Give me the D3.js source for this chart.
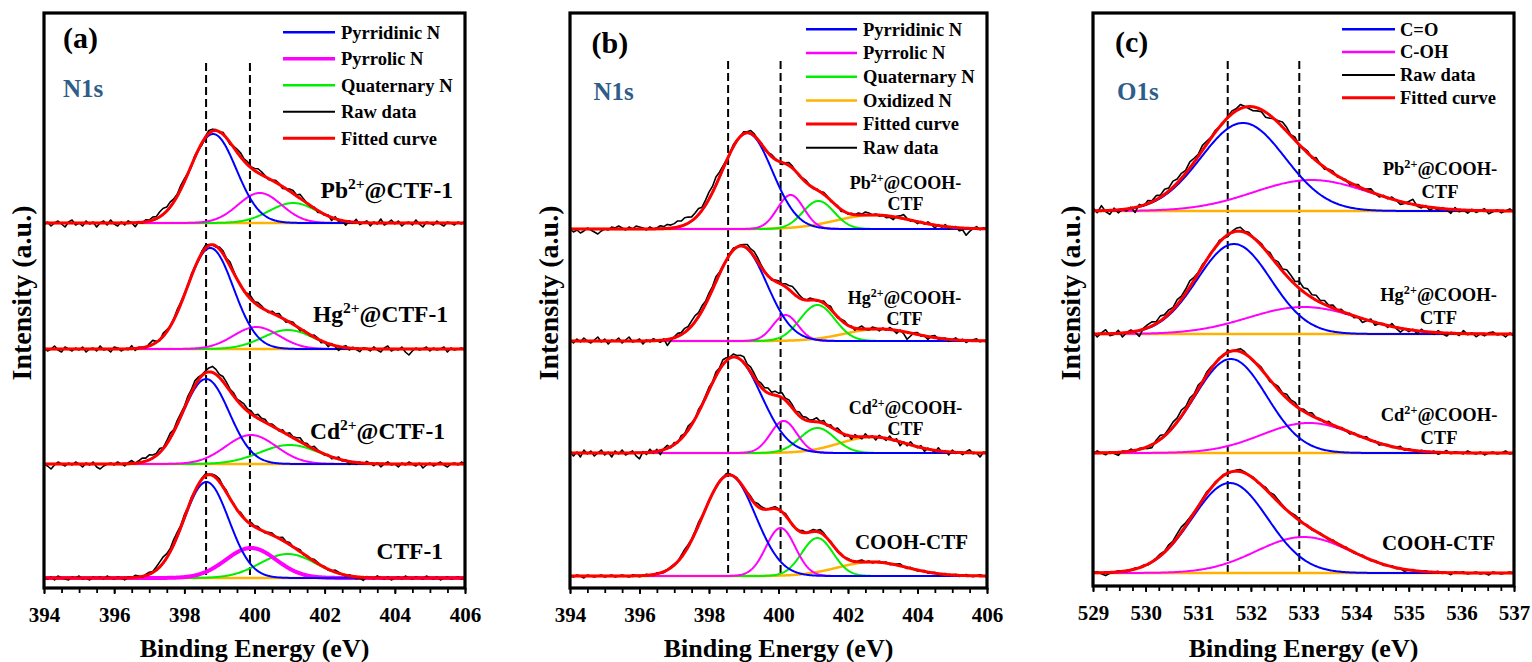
<!DOCTYPE html>
<html>
<head>
<meta charset="utf-8">
<script src="https://cdn.jsdelivr.net/npm/d3@7"></script>
<style>
  body { margin: 0; background: #fff; }
  svg { display: block; }
  text { font-family: "Liberation Serif", "Times New Roman", serif; font-weight: bold; fill: #000; }
</style>
</head>
<body>
<svg id="chart" width="1532" height="662"></svg>
<script>
// ---------------- data ----------------
const nRange = [394, 406];          // N1s binding energy window (eV)
const oRange = [529, 537];          // O1s binding energy window (eV)
const nStep = 0.1;                  // raw-data sampling of N1s scans (eV)
const oStep = 0.08;                 // raw-data sampling of O1s scans (eV)
const nTicks = [394, 396, 398, 400, 402, 404, 406];
const oTicks = [529, 530, 531, 532, 533, 534, 535, 536, 537];

// Peak components: [centre (eV), height (a.u.), sigma (eV)]
// (a) N1s, CTF-1 series
const aSamples = [["Pb{2+}@CTF-1"], ["Hg{2+}@CTF-1"], ["Cd{2+}@CTF-1"], ["CTF-1"]];
const aOffsets = [365, 239, 124, 10];
const aPyridinic = [[398.82, 89, 0.66], [398.74, 101, 0.66], [398.62, 85, 0.66], [398.63, 96, 0.64]];
const aPyrrolic = [[400.15, 30, 0.62], [400.05, 22, 0.65], [399.9, 29, 0.72], [399.9, 30, 0.72]];
const aQuaternary = [[401.1, 20, 0.68], [400.95, 19, 0.72], [401.0, 19, 0.85], [400.95, 24, 0.8]];
const aMarkers = [398.62, 399.87];

// (b) N1s, COOH-CTF series
const bSamples = [["Pb{2+}@COOH-", "CTF"], ["Hg{2+}@COOH-", "CTF"], ["Cd{2+}@COOH-", "CTF"], ["COOH-CTF"]];
const bOffsets = [359, 247, 135, 12];
const bPyridinic = [[399.1, 96, 0.72], [398.92, 95, 0.74], [398.72, 96, 0.78], [398.58, 101, 0.75]];
const bPyrrolic = [[400.35, 34, 0.38], [400.2, 26, 0.36], [400.15, 32, 0.38], [400.06, 48, 0.42]];
const bQuaternary = [[401.15, 28, 0.45], [401.12, 36, 0.5], [401.12, 25, 0.5], [401.12, 38, 0.45]];
const bOxidized = [[402.75, 14, 1.1], [402.9, 12, 1.0], [402.7, 16, 0.95], [402.7, 14, 1.0]];
const bMarkers = [398.55, 400.06];

// (c) O1s, COOH-CTF series
const cSamples = [["Pb{2+}@COOH-", "CTF"], ["Hg{2+}@COOH-", "CTF"], ["Cd{2+}@COOH-", "CTF"], ["COOH-CTF"]];
const cOffsets = [377, 254, 135, 15];
const cCarbonyl = [[531.85, 88, 0.8], [531.68, 90, 0.7], [531.62, 94, 0.68], [531.6, 90, 0.72]];
const cHydroxyl = [[533.15, 31, 1.1], [533.0, 27, 1.05], [533.1, 30, 0.9], [533.0, 36, 0.9]];
const cMarkers = [531.56, 532.92];

// Raw-data residuals (raw minus fitted envelope, a.u.) on the sampling grid
const aResidPb = [-2,1,-3,0,2,-1,-4,1,3,-2,0,-3,2,-1,1,-4,0,2,-2,3,-1,-3,1,-2,2,0,-4,1,-1,2,
  1,3,2,5,6,4,5,3,2,4, 3,1,-1,2,0,-2,1,3,2,1, -1,2,0,-2,1,3,4,2,3,1, 2,4,3,1,-1,0,2,1,-2,0,
  2,3,1,4,2,0,-1,1,-2,0, -1,1,-3,2,-2,0,-4,1,-1,3, -2,0,2,-3,1,-1,4,-2,0,3, -1,2,-3,0,1,-2,3,-1,-4,1,
  0,-2,2,-1,-3,1,0,-2,1,-1,2];
const aResidHg = [1,-2,0,3,-1,-3,2,0,-2,1,-1,2,-3,0,1,-2,3,-1,0,-3,2,1,-2,0,-1,3,-2,1,0,-1,
  2,4,1,-1,3,2,0,1,3,2, 1,0,2,1,-1,2,3,1,0,-1, 2,3,1,4,2,0,1,-1,2,3, 1,3,2,0,-1,2,1,3,0,-2,
  1,2,0,-2,1,0,-1,2,1,-2, 0,-3,1,-1,-4,0,2,-2,1,-1, -3,1,0,-2,2,-1,-3,1,3,-2, 0,-1,2,-3,-6,-2,1,-1,0,2,
  -2,1,-1,0,2,-3,1,-1,0,1,-1];
const aResidCd = [0,-2,-5,-1,2,0,-2,1,-1,2,0,-3,1,-1,2,-3,-5,-2,0,1,-1,2,0,-2,1,3,0,2,4,3,
  5,3,2,4,1,3,5,2,4,3, 2,4,3,5,3,1,2,4,6,5, 3,5,4,2,3,1,3,4,2,3, 1,4,2,3,0,2,1,-1,2,0,
  3,1,2,4,1,2,0,3,1,0, -1,1,-2,0,2,-1,1,-3,0,-2, 1,-1,2,0,-2,1,-3,0,2,-1, 0,-3,1,-1,2,0,-2,1,-4,-1,
  1,-2,0,2,-1,-3,0,1,-1,2,0];
const aResidBare = [0,-1,1,-2,2,0,-1,-2,1,0,2,-1,0,-2,1,0,1,-1,2,0,-1,1,0,-2,1,0,2,1,-1,1,
  2,1,3,5,6,4,3,5,4,2, 3,1,2,0,-1,1,2,0,1,2, 3,1,2,0,1,-1,2,1,0,2, 1,2,0,-1,1,2,0,1,3,1,
  2,0,1,2,-1,1,0,2,1,0, 1,-1,0,2,1,0,-1,1,0,-2, -1,-3,1,0,-1,2,0,-1,1,-2, 0,1,-1,2,0,-1,1,0,-1,2,
  0,-1,1,-2,0,1,-1,0,1,-1,0];

const bResidPb = [0,-3,-1,-4,-2,1,-1,-3,-5,-2,0,-1,2,1,3,1,-1,2,0,3,2,1,-1,2,0,1,3,2,4,3,
  4,6,5,7,6,4,5,6,3,5, 7,6,8,5,3,1,-1,2,1,0, 2,1,3,2,0,1,-1,0,2,1, 0,-2,1,3,2,0,-1,1,2,0,
  -1,1,0,2,1,-1,0,1,-2,0, -1,1,0,2,1,3,2,0,1,-1, 0,-2,-1,-3,1,2,4,1,-1,0, -2,1,-1,2,0,-3,1,-1,2,-2,
  0,1,-3,-2,-7,-3,0,2,-1,1,0];
const bResidHg = [1,-2,2,-1,3,0,-2,1,4,-1,2,-3,1,0,3,-2,1,4,-1,0,2,-3,1,-1,2,0,-2,1,-6,-2,
  1,3,2,4,3,5,6,4,5,3, 4,3,5,2,1,-1,1,2,0,1, 2,4,3,5,4,2,1,0,-1,1, 2,1,3,4,6,5,3,1,0,2,
  1,-1,0,2,1,3,0,-1,1,2, 0,1,-2,1,3,0,-1,2,1,-2, 1,-1,2,0,-3,1,-2,-7,-3,1, 2,-1,0,-3,1,2,-1,0,1,-2,
  0,2,-1,1,-2,0,1,2,-1,0,1];
const bResidCd = [2,-3,1,-4,3,-1,2,-3,0,3,-2,1,-4,2,-1,3,-2,0,2,-3,-6,1,-2,3,-1,2,-4,1,3,-1,
  2,-1,3,1,4,2,0,3,1,2, 3,1,4,2,5,3,1,3,2,4, 6,3,5,4,2,4,3,5,2,4, 3,5,2,4,3,1,4,2,3,1,
  2,4,1,3,-1,2,0,3,1,-2, 1,-3,2,0,-2,3,-1,1,-3,2, 0,-2,3,-1,2,-4,1,-2,3,0, -1,2,-3,1,0,-2,3,-1,1,-3,
  2,-1,0,-2,1,3,-1,0,-4,1,0];
const bResidBare = [0,-1,1,0,-2,1,0,-1,0,1,-1,0,1,-1,0,1,0,-1,1,0,-1,0,1,0,-1,1,0,-1,0,1,
  1,0,2,3,2,1,2,3,1,0, 1,0,-1,1,0,2,1,0,1,-1, 0,1,2,1,3,2,1,0,1,2, 1,0,2,1,-1,0,1,2,0,1,
  2,1,3,2,0,1,0,-1,1,0, 1,0,-1,1,2,0,1,-1,0,1, 0,1,-1,0,1,2,0,-1,1,0, -1,0,1,-1,0,1,-2,0,1,-1,
  0,1,-1,0,1,0,-1,0,1,0,-1];

const cResidPb = [3,-2,5,-1,-4,2,-3,0,-2,1, -5,2,-1,3,1,4,2,5,3,6, 4,5,3,6,4,2,5,3,1,2,
  0,-1,1,3,2,4,1,-2,-4,-3, -2,-5,-3,0,2,5,4,1,3,-1, 1,2,-1,3,0,-2,1,2,-1,0,
  1,-2,0,2,-1,1,3,0,-2,1, -1,2,0,-3,-1,2,5,-1,-2,1, -3,0,-2,1,-1,-4,2,-2,0,-3,
  1,-2,0,2,-3,-1,1,-2,0,2, -1];
const cResidHg = [2,-3,1,4,-2,-1,3,-4,0,2, -1,-6,1,3,4,2,5,3,4,2, 5,3,4,6,3,1,2,0,1,-1,
  2,0,-2,1,3,4,1,2,0,1, 2,0,3,1,4,2,6,5,3,7, 4,6,3,5,2,4,1,3,0,2,
  -1,1,-2,0,-4,-1,2,-3,0,1, -2,3,-1,-4,0,-2,1,-3,2,-1, 0,-2,2,-1,-3,1,0,-2,3,-1,
  1,-3,0,-2,1,2,-1,0,-3,1, -2];
const cResidCd = [-1,2,0,-2,1,-1,-3,1,0,2, -1,1,0,-2,-3,2,4,1,3,5, 4,6,3,5,2,4,1,3,2,0,
  1,-1,2,0,1,3,2,0,-1,1, 2,0,-2,1,3,1,4,2,3,0, 2,1,3,0,1,-1,2,0,-1,1,
  0,-2,1,-1,0,2,-1,1,-2,0, 1,-1,0,2,-1,1,0,-2,1,0, -1,1,-2,0,2,-1,1,0,-1,2,
  0,-1,1,-2,0,1,-1,0,2,-1, 0];
const cResidBare = [0,1,-1,-3,-1,0,1,0,-1,0, 1,0,1,-1,0,1,2,1,3,2, 4,5,3,2,1,0,1,2,0,1,
  0,1,-1,0,1,2,1,0,1,-1, 0,2,1,3,2,1,0,1,2,1, 0,1,-1,0,1,0,-1,1,0,-1,
  1,0,-1,0,1,0,-1,1,0,-1, 0,1,-1,0,-2,0,1,-1,0,1, -1,0,1,-1,0,-2,1,0,1,-1,
  0,1,-1,0,-2,1,0,-1,0,1, 0];

// ---------------- drawing ----------------
const COLORS = { blue: "#0000FF", magenta: "#FF00FF", green: "#00EE00", orange: "#FFB300", red: "#FF0000", black: "#000000" };
const svg = d3.select("#chart");
const gaussian = (e, p) => p[1] * Math.exp(-((e - p[0]) ** 2) / (2 * p[2] * p[2]));

function richText(sel, str, fs) {
  const parts = str.split(/(\{[^}]*\})/).filter(s => s.length);
  let raised = false;
  parts.forEach(p => {
    if (p.startsWith("{")) {
      sel.append("tspan").attr("font-size", fs * 0.66).attr("dy", -0.38 * fs).text(p.slice(1, -1));
      raised = true;
    } else {
      sel.append("tspan").attr("dy", raised ? 0.38 * fs : 0).text(p);
      raised = false;
    }
  });
}

const panels = [
  {
    range: nRange, step: nStep, ticks: nTicks, minorStep: 0.5,
    left: 44, right: 465, bottom: 588,
    offsets: aOffsets, markers: aMarkers, markerTop: 63, markerBottom: 578,
    flatBackground: true,
    components: [
      { data: aQuaternary, color: COLORS.green, width: [2, 2, 2, 2] },
      { data: aPyrrolic, color: COLORS.magenta, width: [2, 2, 2, 4] },
      { data: aPyridinic, color: COLORS.blue, width: [2, 2, 2, 2] }
    ],
    residuals: [aResidPb, aResidHg, aResidCd, aResidBare],
    tag: { text: "(a)", x: 63, y: 48 }, core: { text: "N1s", x: 63, y: 97 },
    legend: { x: 283, len: 52, textX: 341, y0: 32.3, dy: 26.5, items: [
      ["Pyrridinic N", COLORS.blue, 2.5], ["Pyrrolic N", COLORS.magenta, 3.5], ["Quaternary N", COLORS.green, 2.5],
      ["Raw data", COLORS.black, 2], ["Fitted curve", COLORS.red, 3]] },
    samples: aSamples, labelSize: 23.5, labelAnchor: "end",
    labelPos: [[453, 198], [448, 322], [445, 438.5], [443, 558.5]],
    yTitleX: 31, xTitleX: 254.5
  },
  {
    range: nRange, step: nStep, ticks: nTicks, minorStep: 0.5,
    left: 570, right: 987, bottom: 588,
    offsets: bOffsets, markers: bMarkers, markerTop: 61, markerBottom: 576,
    flatBackground: false,
    components: [
      { data: bOxidized, color: COLORS.orange, width: [2.5, 2.5, 2.5, 2.5] },
      { data: bQuaternary, color: COLORS.green, width: [2, 2, 2, 2] },
      { data: bPyrrolic, color: COLORS.magenta, width: [2, 2, 2, 2] },
      { data: bPyridinic, color: COLORS.blue, width: [2, 2, 2, 2] }
    ],
    residuals: [bResidPb, bResidHg, bResidCd, bResidBare],
    tag: { text: "(b)", x: 591.5, y: 53 }, core: { text: "N1s", x: 593.5, y: 100 },
    legend: { x: 806, len: 51, textX: 863, y0: 29.3, dy: 23.7, items: [
      ["Pyrridinic N", COLORS.blue, 2.5], ["Pyrrolic N", COLORS.magenta, 2.5], ["Quaternary N", COLORS.green, 2.5],
      ["Oxidized N", COLORS.orange, 2.5], ["Fitted curve", COLORS.red, 3], ["Raw data", COLORS.black, 2]] },
    samples: bSamples, labelSize: 18, labelAnchor: "middle",
    labelPos: [[905.5, 188.5], [904.5, 303.5], [905.5, 413.5], [911.5, 548.5]],
    lineGap: 21.5, singleSize: 21,
    yTitleX: 558, xTitleX: 778.5
  },
  {
    range: oRange, step: oStep, ticks: oTicks, minorStep: 0.25,
    left: 1093, right: 1514, bottom: 586,
    offsets: cOffsets, markers: cMarkers, markerTop: 61, markerBottom: 573,
    flatBackground: true,
    components: [
      { data: cHydroxyl, color: COLORS.magenta, width: [2, 2, 2, 2] },
      { data: cCarbonyl, color: COLORS.blue, width: [2, 2, 2, 2] }
    ],
    residuals: [cResidPb, cResidHg, cResidCd, cResidBare],
    tag: { text: "(c)", x: 1115, y: 51.5 }, core: { text: "O1s", x: 1117, y: 100 },
    legend: { x: 1342, len: 53, textX: 1400, y0: 29.3, dy: 22.8, items: [
      ["C=O", COLORS.blue, 2.5], ["C-OH", COLORS.magenta, 2.5], ["Raw data", COLORS.black, 2], ["Fitted curve", COLORS.red, 3]] },
    samples: cSamples, labelSize: 18.5, labelAnchor: "middle",
    labelPos: [[1440, 175], [1438.5, 301], [1439, 421], [1438.5, 549.5]],
    lineGap: 22.5, singleSize: 21,
    yTitleX: 1080, xTitleX: 1303.5
  }
];

panels.forEach(cfg => {
  const x = d3.scaleLinear().domain(cfg.range).range([cfg.left, cfg.right]);
  const y = d3.scaleLinear().domain([0, 575]).range([588, 13]);
  const g = svg.append("g");
  const line = d3.line().x(d => x(d[0])).y(d => y(d[1]));
  const nFine = Math.round((cfg.range[1] - cfg.range[0]) / 0.02);
  const fine = d3.range(nFine + 1).map(i => cfg.range[0] + i * 0.02);

  // reference energies
  cfg.markers.forEach(m => {
    g.append("line")
      .attr("x1", x(m)).attr("x2", x(m))
      .attr("y1", cfg.markerTop).attr("y2", cfg.markerBottom)
      .attr("stroke", "#000").attr("stroke-width", 2).attr("stroke-dasharray", "8,4");
  });

  cfg.offsets.forEach((off, k) => {
    const peaks = cfg.components.map(c => c.data[k]);
    const envelope = e => off + d3.sum(peaks, p => gaussian(e, p));

    if (cfg.flatBackground) {
      g.append("path").attr("d", line(fine.map(e => [e, off])))
        .attr("fill", "none").attr("stroke", COLORS.orange).attr("stroke-width", 2.5);
    }
    cfg.components.forEach(c => {
      g.append("path").attr("d", line(fine.map(e => [e, off + gaussian(e, c.data[k])])))
        .attr("fill", "none").attr("stroke", c.color).attr("stroke-width", c.width[k]);
    });
    const raw = cfg.residuals[k].map((r, i) => {
      const e = cfg.range[0] + i * cfg.step;
      return [e, envelope(e) + r];
    });
    g.append("path").attr("d", line(raw))
      .attr("fill", "none").attr("stroke", "#000").attr("stroke-width", 1.6).attr("stroke-linejoin", "round");
    g.append("path").attr("d", line(fine.map(e => [e, envelope(e)])))
      .attr("fill", "none").attr("stroke", COLORS.red).attr("stroke-width", 3);

    // sample label
    const lines = cfg.samples[k];
    const [lx, ly] = cfg.labelPos[k];
    if (lines.length === 1 && cfg.singleSize) {
      const t = g.append("text").attr("x", lx).attr("y", ly).attr("text-anchor", cfg.labelAnchor).attr("font-size", cfg.singleSize);
      richText(t, lines[0], cfg.singleSize);
    } else {
      lines.forEach((s, j) => {
        const t = g.append("text").attr("x", lx).attr("y", ly + j * (cfg.lineGap || 0))
          .attr("text-anchor", cfg.labelAnchor).attr("font-size", cfg.labelSize);
        richText(t, s, cfg.labelSize);
      });
    }
  });

  // bottom axis: minor and major ticks
  const nMinor = Math.round((cfg.range[1] - cfg.range[0]) / cfg.minorStep);
  const minor = d3.range(nMinor + 1).map(i => cfg.range[0] + i * cfg.minorStep);
  const minorAxis = g.append("g").attr("transform", `translate(0,${cfg.bottom})`)
    .call(d3.axisBottom(x).tickValues(minor).tickSize(5).tickFormat(""));
  const majorAxis = g.append("g").attr("transform", `translate(0,${cfg.bottom})`)
    .call(d3.axisBottom(x).tickValues(cfg.ticks).tickSize(6).tickPadding(13).tickFormat(d3.format("d")));
  [minorAxis, majorAxis].forEach(a => {
    a.select(".domain").remove();
    a.selectAll("line").attr("stroke", "#000").attr("stroke-width", 1.8);
  });
  majorAxis.selectAll("text").attr("font-size", 21)
    .attr("font-family", "'Liberation Serif', 'Times New Roman', serif").attr("font-weight", "bold").attr("fill", "#000");

  // frame
  g.append("rect").attr("x", cfg.left).attr("y", 13)
    .attr("width", cfg.right - cfg.left).attr("height", cfg.bottom - 13)
    .attr("fill", "none").attr("stroke", "#000").attr("stroke-width", 3.2);

  // titles
  g.append("text").attr("x", cfg.xTitleX).attr("y", 657).attr("text-anchor", "middle")
    .attr("font-size", 26).text("Binding Energy (eV)");
  g.append("text").attr("transform", `translate(${cfg.yTitleX},293) rotate(-90)`)
    .attr("text-anchor", "middle").attr("font-size", 28).text("Intensity (a.u.)");
  g.append("text").attr("x", cfg.tag.x).attr("y", cfg.tag.y).attr("font-size", 30).text(cfg.tag.text);
  g.append("text").attr("x", cfg.core.x).attr("y", cfg.core.y).attr("font-size", 25)
    .style("fill", "#2F5D8A").text(cfg.core.text);

  // legend
  const L = cfg.legend;
  L.items.forEach((it, i) => {
    const ly = L.y0 + i * L.dy;
    g.append("line").attr("x1", L.x).attr("x2", L.x + L.len).attr("y1", ly).attr("y2", ly)
      .attr("stroke", it[1]).attr("stroke-width", it[2]);
    g.append("text").attr("x", L.textX).attr("y", ly + 6.3).attr("font-size", 18.5).text(it[0]);
  });
});
</script>
</body>
</html>
